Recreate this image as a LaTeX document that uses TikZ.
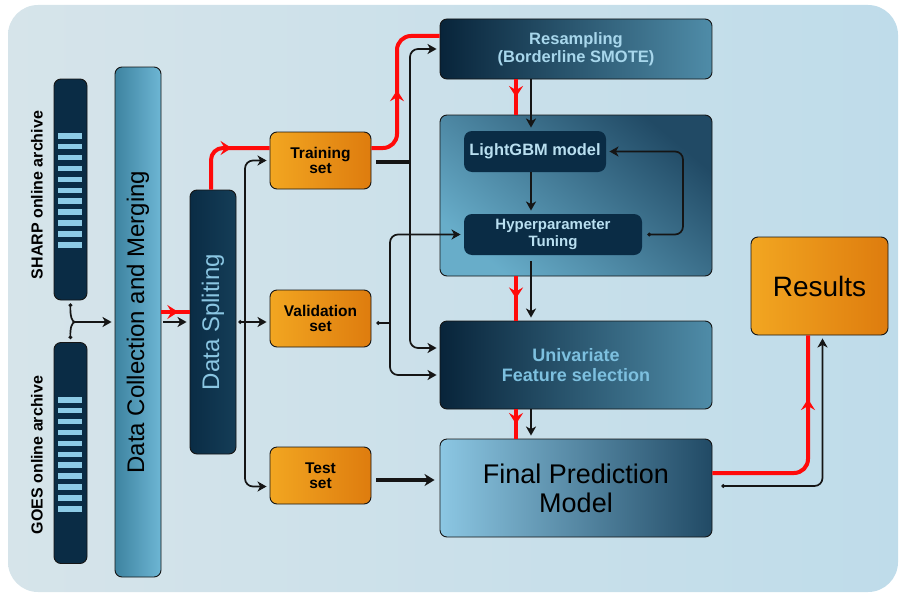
\documentclass[tikz,border=0pt]{standalone}
\usepackage{graphicx}
\usepackage{fontspec}
\setmainfont{Liberation Sans}
\usetikzlibrary{arrows.meta,decorations.markings}
\definecolor{navy}{HTML}{0A2C45}
\definecolor{stripe}{HTML}{8DCBE6}
\definecolor{bgleft}{HTML}{D6E4EA}
\definecolor{bgright}{HTML}{BFDCEA}
\definecolor{orangeA}{HTML}{F2A621}
\definecolor{orangeB}{HTML}{DE7C0E}
\definecolor{tealA}{HTML}{3E83A0}
\definecolor{tealB}{HTML}{6DB6D4}
\definecolor{deepA}{HTML}{08243A}
\definecolor{deepB}{HTML}{4F8CA8}
\definecolor{paleA}{HTML}{8CC7E3}
\definecolor{paleB}{HTML}{214A65}
\definecolor{textA}{HTML}{A8D7EC}
\definecolor{textB}{HTML}{7DC0DF}
\definecolor{linkred}{HTML}{FF0A0A}
\definecolor{ink}{HTML}{151515}

\begin{document}
\begin{tikzpicture}[x=1pt,y=-1pt,
  box/.style={draw=ink, line width=0.9pt, rounded corners=7pt, align=center, inner sep=0pt},
  archive/.style={box, fill=navy, minimum width=33pt, minimum height=221pt},
  setbox/.style={box, left color=orangeA, right color=orangeB, minimum width=101pt, minimum height=57pt, font=\bfseries\fontsize{15.5}{15.5}\selectfont},
  stage/.style={box, left color=deepA, right color=deepB, minimum width=272pt},
  inbox/.style={box, draw=none, fill=navy, rounded corners=8pt, minimum height=41pt, text=textA!80!white},
  conn/.style={draw=ink, line width=1.7pt, -{Stealth[length=9pt,width=10pt,inset=2.5pt]}, shorten >=3pt, rounded corners=8pt},
  dotconn/.style={conn, {Circle[length=3.5pt]}-{Stealth[length=9pt,width=10pt,inset=2.5pt]}},
  heavy/.style={draw=ink, line width=3.8pt},
  redline/.style={draw=linkred, line width=4pt, rounded corners=14pt, postaction={decorate},
    decoration={markings, mark=at position #1 with {\arrow{Stealth[length=11pt,width=14pt,inset=4pt]}}}},
  redline/.default=0.5]
\useasboundingbox (0,0) rectangle (901,594);
\shade[rounded corners=30pt, left color=bgleft, right color=bgright] (8,5) rectangle (898,592);

\node[archive] (sharp) at (70.5,189.5) {};
\node[archive] (goes) at (70.5,453) {};
\foreach \i in {0,...,10} {
  \fill[stripe] (58,133+10.9*\i) rectangle (82,138.5+10.9*\i);
  \fill[stripe] (58,397+10.9*\i) rectangle (82,402.5+10.9*\i);
}
\node[rotate=90, font=\bfseries\fontsize{16}{18}\selectfont] (sharplbl) at (37,195) {SHARP online archive};
\node[rotate=90, font=\bfseries\fontsize{16}{18}\selectfont] (goeslbl) at (37,455) {GOES online archive};

\node[box, left color=tealA, right color=tealB, minimum width=46pt, minimum height=510pt, font=\fontsize{24}{26}\selectfont] (collect) at (138,322) {\rotatebox{90}{Data Collection and Merging}};
\node[box, left color=navy, right color=navy!80!tealA, minimum width=46pt, minimum height=264pt, text=textB!90!white, font=\fontsize{24}{26}\selectfont] (split) at (213,322) {\rotatebox{90}{Data Spliting}};

\node[setbox] (train) at (320.5,160.5) {Training\\set};
\node[setbox] (valid) at (320.5,318.5) {Validation\\set};
\node[setbox] (test) at (320.5,475.5) {Test\\set};

\node[stage, minimum height=60pt, text=textA, font=\bfseries\fontsize{16.5}{18}\selectfont] (resamp) at (576,49) {Resampling\\(Borderline SMOTE)};
\node[box, bottom color=tealB!95!black, top color=paleB, shading angle=-40, minimum width=272pt, minimum height=161pt] (tune) at (576,195.5) {};
\node[inbox, minimum width=142pt, font=\bfseries\fontsize{16.4}{18}\selectfont] (lgbm) at (535,151.5) {LightGBM model};
\node[inbox, minimum width=178pt, font=\bfseries\fontsize{15}{16.5}\selectfont] (hyper) at (553,234.5) {Hyperparameter\\Tuning};
\node[stage, minimum height=88pt, text=textB, font=\bfseries\fontsize{18}{20}\selectfont] (select) at (576,365) {Univariate\\Feature selection};
\node[box, left color=paleA, right color=paleB, minimum width=272pt, minimum height=98pt, font=\fontsize{27}{29}\selectfont] (final) at (576,488) {Final Prediction\\Model};
\node[box, left color=orangeA, right color=orangeB, minimum width=137pt, minimum height=98pt, font=\fontsize{28}{30}\selectfont] (results) at (819.5,286) {Results};

\coordinate (fork) at (75,322);
\draw[draw=ink, line width=1.7pt, {Circle[length=3.5pt]}-] ([yshift=-3pt]sharp.south) .. controls (70,316) and (72,322) .. (fork);
\draw[draw=ink, line width=1.7pt, {Circle[length=3.5pt]}-] ([yshift=3pt]goes.north) .. controls (70,328) and (72,322) .. (fork);
\draw[conn] (fork) -- (collect.west);

\draw[redline=0.6] ([yshift=10pt]collect.east) -- ([yshift=10pt]split.west);
\draw[conn, shorten <=2pt] (collect.east) -- (split.west);
\draw[redline=0.6, rounded corners=12pt] ([xshift=-2pt]split.north) |- ([yshift=12.5pt]train.west);

\coordinate (sp) at (245,322);
\draw[conn] (sp) |- (train.west);
\draw[conn] (sp) |- ([yshift=-11pt]test.west);
\draw[dotconn] ([xshift=2pt]split.east) -- (split.east -| valid.west);

\coordinate (rj) at (397,100);
\draw[redline=0.46] ([yshift=12.5pt]train.east) -| (rj) |- ([yshift=13pt]resamp.west);
\coordinate (tj) at (410,162);
\draw[heavy] ([xshift=5pt]train.east |- tj) -- (tj);
\draw[conn] (tj) |- (resamp.west);
\draw[conn] (tj) |- ([yshift=17pt]select.west);

\coordinate (vj) at (390,323);
\draw[draw=ink, line width=1.7pt, {Circle[length=3.5pt]}-] ([xshift=5pt]valid.east |- vj) -- (vj);
\draw[conn] (vj) |- (hyper.west);
\draw[conn] (vj) |- ([yshift=-10pt]select.west);

\draw[heavy, -{Stealth[length=10pt,width=12pt,inset=3pt]}, shorten >=5pt] ([xshift=5pt,yshift=-4.5pt]test.east) -- ([yshift=-4.5pt]test.east -| final.west);

\coordinate (rc) at (516,0);
\coordinate (bc) at (531,0);
\draw[redline] (rc |- resamp.south) -- (rc |- tune.north);
\draw[redline] (rc |- tune.south) -- (rc |- select.north);
\draw[redline] (rc |- select.south) -- (rc |- final.north);
\draw[conn] (bc |- resamp.south) -- (bc |- lgbm.north);
\draw[conn] (bc |- lgbm.south) -- (bc |- hyper.north);
\draw[conn, shorten <=6pt] (bc |- hyper.south) -- (bc |- select.north);
\draw[conn] (bc |- select.south) -- (bc |- final.north);

\coordinate (fb) at (683,0);
\draw[dotconn] ([xshift=5pt]hyper.east) -- (fb |- hyper.east) |- (lgbm.east);

\draw[redline=0.72] ([yshift=15pt]final.east) -| ([xshift=-11.5pt]results.south);
\draw[dotconn] ([xshift=9pt,yshift=2pt]final.east) -| ([xshift=3pt]results.south);
\end{tikzpicture}
\end{document}
